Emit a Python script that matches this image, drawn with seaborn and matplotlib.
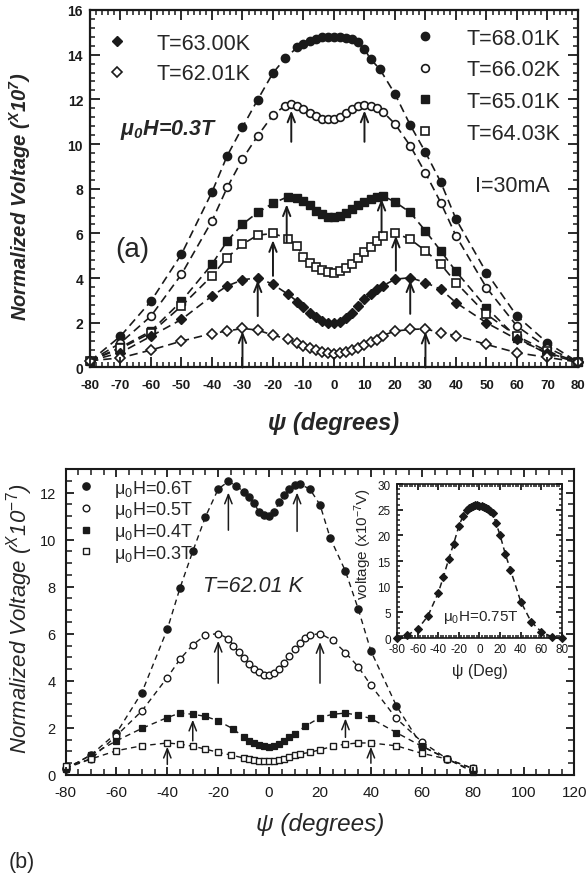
import matplotlib
matplotlib.use("Agg")
import matplotlib.pyplot as plt
import seaborn as sns
import pandas as pd
from matplotlib.lines import Line2D
from matplotlib.ticker import MultipleLocator

# ---------------- data: panel (a) ----------------
ang68 = [-80,-70,-60,-50,-40,-35,-30,-25,-20,-16,-12,-10,-8,-6,-4,-2,0,2,4,6,8,10,12,15,20,25,30,35,40,50,60,70,80]
v68 = [0.28,1.4,2.97,5.07,7.85,9.48,10.75,11.99,13.18,13.84,14.33,14.5,14.62,14.72,14.78,14.8,14.8,14.78,14.74,14.68,14.55,14.25,13.8,13.36,12.24,10.85,9.63,8.3,6.64,4.25,2.3,1.1,0.24]

ang66 = [-80,-70,-60,-50,-40,-35,-30,-25,-20,-16,-14,-12,-10,-8,-6,-4,-2,0,2,4,6,8,10,12,14,16,20,25,30,35,40,50,60,70,80]
v66 = [0.28,1.1,2.3,4.17,6.56,8.06,9.33,10.37,11.3,11.72,11.79,11.72,11.55,11.38,11.24,11.14,11.1,11.12,11.22,11.38,11.56,11.7,11.76,11.72,11.6,11.45,10.9,9.92,8.7,7.38,5.89,3.57,1.85,0.88,0.24]

ang65 = [-80,-70,-60,-50,-40,-35,-30,-25,-20,-15,-12,-10,-8,-6,-4,-2,0,2,4,6,8,10,12,14,16,20,25,30,35,40,50,60,70,80]
v65 = [0.3,0.9,1.63,2.97,4.62,5.66,6.41,6.94,7.35,7.65,7.6,7.45,7.25,7.02,6.85,6.72,6.72,6.8,6.92,7.08,7.25,7.42,7.56,7.65,7.68,7.41,6.94,6.11,5.22,4.3,2.68,1.33,0.6,0.24]

ang64 = [-80,-70,-60,-50,-40,-35,-30,-25,-20,-15,-12,-10,-8,-6,-4,-2,0,2,4,6,8,10,12,14,16,20,25,30,35,40,50,60,70,80]
v64 = [0.3,0.85,1.55,2.75,4.1,4.92,5.52,5.92,6.0,5.77,5.42,4.94,4.68,4.5,4.36,4.26,4.24,4.3,4.45,4.65,4.9,5.15,5.4,5.65,5.88,6.02,5.74,5.22,4.62,3.8,2.38,1.4,0.73,0.24]

ang63 = [-80,-70,-60,-50,-40,-35,-30,-25,-20,-15,-12,-10,-8,-6,-4,-2,0,2,4,6,8,10,12,14,16,20,25,30,35,40,50,60,70,80]
v63 = [0.3,0.66,1.4,2.15,3.2,3.65,3.92,4.02,3.72,3.27,2.95,2.7,2.45,2.25,2.08,1.98,1.97,2.05,2.2,2.45,2.75,3.05,3.3,3.5,3.65,3.95,4.02,3.8,3.5,2.9,2.0,1.26,0.66,0.24]

ang62 = [-80,-70,-60,-50,-40,-35,-30,-25,-20,-15,-12,-10,-8,-6,-4,-2,0,2,4,6,8,10,12,14,16,20,25,30,35,40,50,60,70,80]
v62 = [0.3,0.43,0.78,1.18,1.52,1.63,1.75,1.67,1.45,1.26,1.1,0.98,0.86,0.76,0.68,0.63,0.62,0.64,0.7,0.78,0.88,1.0,1.12,1.25,1.43,1.63,1.7,1.73,1.55,1.43,1.03,0.66,0.45,0.24]

labels_a = ["T=68.01K", "T=66.02K", "T=65.01K", "T=64.03K", "T=63.00K", "T=62.01K"]

# arrows (angle, start, tip) panel (a)
arrows_a = [(-14, 10.1, 11.5), (10, 10.1, 11.5),
            (-15.5, 5.6, 7.3), (15.6, 6.05, 7.55),
            (-20, 4.1, 5.7), (20.3, 4.33, 5.9),
            (-25, 2.3, 3.9), (25, 2.4, 3.9),
            (-30, 0.0, 1.62), (30, 0.0, 1.6)]

# ---------------- data: panel (b) ----------------
ang06 = [-80,-70,-60,-50,-40,-35,-30,-25,-20,-16,-13,-10,-8,-6,-4,-2,0,2,4,6,8,10,12,16,20,24,30,35,40,50,60,70,80]
v06 = [0.25,0.85,1.78,3.5,6.19,7.95,9.5,10.97,12.15,12.47,12.29,12.04,11.83,11.55,11.19,11.04,10.99,11.19,11.58,11.9,12.15,12.3,12.36,12.15,11.48,10.07,8.66,7.06,5.27,2.94,1.24,0.68,0.18]

ang05 = [-80,-70,-60,-50,-40,-35,-30,-25,-20,-16,-14,-12,-10,-8,-6,-4,-2,0,2,4,6,8,10,12,14,16,20,25,30,35,40,50,60,70,80]
v05 = [0.28,0.68,1.67,2.72,4.14,4.92,5.53,5.94,6.01,5.79,5.5,5.22,4.96,4.72,4.52,4.36,4.25,4.23,4.32,4.5,4.75,5.05,5.35,5.6,5.8,5.94,6.01,5.72,5.2,4.6,3.81,2.4,1.41,0.68,0.28]

ang04 = [-80,-70,-60,-50,-40,-35,-30,-25,-20,-14,-10,-8,-6,-4,-2,0,2,4,6,8,10,14,20,25,30,35,40,50,60,70,80]
v04 = [0.25,0.85,1.45,1.98,2.44,2.63,2.58,2.49,2.3,1.95,1.6,1.45,1.37,1.27,1.22,1.21,1.23,1.3,1.45,1.6,1.74,2.06,2.44,2.58,2.63,2.54,2.4,1.8,1.22,0.68,0.14]

ang03 = [-80,-70,-60,-50,-40,-35,-30,-25,-20,-15,-10,-8,-6,-4,-2,0,2,4,6,8,10,12,16,20,25,30,35,40,50,60,70,80]
v03 = [0.37,0.68,1.03,1.24,1.36,1.31,1.22,1.1,0.96,0.85,0.72,0.68,0.64,0.61,0.6,0.6,0.61,0.65,0.7,0.76,0.85,0.89,0.96,1.07,1.22,1.31,1.36,1.36,1.24,0.92,0.68,0.28]

labels_b = ["\u03bc$_0$H=0.6T", "\u03bc$_0$H=0.5T", "\u03bc$_0$H=0.4T", "\u03bc$_0$H=0.3T"]

arrows_b = [(-16, 10.4, 12.0), (11, 10.35, 12.0),
            (-20, 3.9, 5.7), (20, 3.9, 5.65),
            (-30, 1.45, 2.35), (30, 1.6, 2.4),
            (-40, 0.45, 1.2), (40, 0.5, 1.2)]

# inset
ang_in = [-80,-70,-60,-50,-40,-35,-30,-25,-20,-16,-12,-10,-8,-6,-4,-2,0,2,4,6,8,10,13,16,20,25,30,40,50,60,70,80]
v_in = [0,0.6,1.7,4.3,8.8,11.9,15.3,18.4,21.8,23.8,25.0,25.3,25.6,25.8,25.9,25.9,25.8,25.7,25.6,25.4,25.1,24.8,24.4,22.4,20.0,16.4,13.3,7.1,3.2,1.2,0.25,0]

xt_a = list(range(-80, 81, 10))
yt_a = list(range(0, 17, 2))
xt_b = list(range(-80, 121, 20))
yt_b = list(range(0, 13, 2))
xt_in = list(range(-80, 81, 20))
yt_in = list(range(0, 31, 5))

# ---------------- style ----------------
sns.set_theme(style="ticks")
plt.rcParams["font.family"] = ["Liberation Sans", "DejaVu Sans"]
plt.rcParams["mathtext.fontset"] = "custom"
plt.rcParams["mathtext.rm"] = "Liberation Sans"
plt.rcParams["mathtext.it"] = "Liberation Sans:italic"
plt.rcParams["mathtext.bf"] = "Liberation Sans:bold"
plt.rcParams.update({
    "xtick.direction": "in", "ytick.direction": "in",
    "xtick.top": True, "ytick.right": True,
    "xtick.color": "k", "ytick.color": "k",
    "axes.edgecolor": "k",
})
try:
    plt.rcParams["mathtext.bfit"] = "Liberation Sans:italic:bold"
    BFIT = True
except Exception:
    BFIT = False

fig = plt.figure(figsize=(5.87, 8.79), dpi=100)
axA = fig.add_axes([0.1533, 0.5808, 0.8313, 0.4067])
axB = fig.add_axes([0.1116, 0.1172, 0.8671, 0.3481])
axI = fig.add_axes([0.6763, 0.2730, 0.2811, 0.1752])


def draw(ax, x, y, marker, filled, ms, lw, dash, mew):
    df = pd.DataFrame({"x": x, "y": y})
    sns.lineplot(data=df, x="x", y="y", ax=ax, color="k", marker=marker,
                 markersize=ms, markerfacecolor=("k" if filled else "white"),
                 markeredgecolor="k", markeredgewidth=mew, linewidth=lw,
                 linestyle=(0, dash), clip_on=False, estimator=None,
                 sort=False, legend=False, zorder=3)


def style_axis(ax, lw, maj, mnr):
    for s in ax.spines.values():
        s.set_linewidth(lw)
    ax.tick_params(which="major", length=maj, width=1.3)
    ax.tick_params(which="minor", length=mnr, width=1.1)


# ---------------- panel (a) ----------------
dA = (5, 3)
draw(axA, ang68, v68, "o", True, 6.0, 1.2, dA, 1.0)
draw(axA, ang66, v66, "o", False, 5.6, 1.2, dA, 1.2)
draw(axA, ang65, v65, "s", True, 5.2, 1.2, dA, 1.0)
draw(axA, ang64, v64, "s", False, 5.2, 1.2, dA, 1.2)
draw(axA, ang63, v63, "D", True, 5.0, 1.2, dA, 1.0)
draw(axA, ang62, v62, "D", False, 4.8, 1.2, dA, 1.2)

for xa, y0, y1 in arrows_a:
    axA.annotate("", xy=(xa, y1), xytext=(xa, y0),
                 arrowprops=dict(arrowstyle="->,head_length=0.55,head_width=0.22",
                                 lw=1.4, color="k", shrinkA=0, shrinkB=0))

axA.set_xlim(-80, 80)
axA.set_ylim(0, 16)
axA.set_xticks(xt_a)
axA.set_xticklabels([str(t) for t in xt_a], fontweight="bold", fontsize=9.5)
axA.set_yticks(yt_a)
axA.set_yticklabels([str(t) for t in yt_a], fontweight="bold", fontsize=10)
axA.xaxis.set_minor_locator(MultipleLocator(2))
axA.yaxis.set_minor_locator(MultipleLocator(0.4))
style_axis(axA, 1.6, 7, 3.5)
axA.tick_params(axis="x", which="major", pad=8)
axA.tick_params(axis="y", which="major", pad=5)

if BFIT:
    ylabA = "Normalized Voltage ($^{\\mathbfit{X}}$10$^{\\mathbfit{7}}$)"
    muA = "\u03bc$_{\\mathbfit{0}}$H=0.3T"
else:
    ylabA = "Normalized Voltage ($^{X}$10$^{7}$)"
    muA = "\u03bc$_0$H=0.3T"
axA.set_xlabel("\u03c8 (degrees)", fontsize=17, fontweight="bold", style="italic")
axA.set_ylabel(ylabA, fontsize=14.5, fontweight="bold", style="italic")
axA.xaxis.set_label_coords(0.5, -0.122)
axA.yaxis.set_label_coords(-0.117, 0.481)

hl = [Line2D([], [], marker="D", color="k", ls="none", ms=5.0, mfc="k", mec="k"),
      Line2D([], [], marker="D", color="k", ls="none", ms=4.8, mfc="white", mec="k", mew=1.2)]
legA1 = axA.legend(hl, labels_a[4:], loc="upper left", bbox_to_anchor=(0.034, 0.937),
                   frameon=False, fontsize=15.5, handlelength=1.0, handletextpad=1.3,
                   borderpad=0, borderaxespad=0, labelspacing=0.45)
axA.add_artist(legA1)
hr = [Line2D([], [], marker="o", color="k", ls="none", ms=6.0, mfc="k", mec="k"),
      Line2D([], [], marker="o", color="k", ls="none", ms=5.6, mfc="white", mec="k", mew=1.2),
      Line2D([], [], marker="s", color="k", ls="none", ms=5.2, mfc="k", mec="k"),
      Line2D([], [], marker="s", color="k", ls="none", ms=5.2, mfc="white", mec="k", mew=1.2)]
axA.legend(hr, labels_a[:4], loc="upper left", bbox_to_anchor=(0.665, 0.951),
           frameon=False, fontsize=15.5, handlelength=1.0, handletextpad=1.4,
           borderpad=0, borderaxespad=0, labelspacing=0.5)

axA.text(0.061, 0.667, muA, transform=axA.transAxes, fontsize=15.5,
         fontweight="bold", style="italic", va="center", ha="left")
axA.text(0.051, 0.331, "(a)", transform=axA.transAxes, fontsize=20,
         va="center", ha="left")
axA.text(0.789, 0.51, "I=30mA", transform=axA.transAxes, fontsize=15.5,
         va="center", ha="left")

# ---------------- panel (b) ----------------
dB = (4, 3)
draw(axB, ang06, v06, "o", True, 5.2, 1.0, dB, 0.9)
draw(axB, ang05, v05, "o", False, 4.8, 1.0, dB, 1.0)
draw(axB, ang04, v04, "s", True, 4.6, 1.0, dB, 0.9)
draw(axB, ang03, v03, "s", False, 4.6, 1.0, dB, 1.0)

for xa, y0, y1 in arrows_b:
    axB.annotate("", xy=(xa, y1), xytext=(xa, y0),
                 arrowprops=dict(arrowstyle="->,head_length=0.55,head_width=0.22",
                                 lw=1.1, color="k", shrinkA=0, shrinkB=0))

axB.set_xlim(-80, 120)
axB.set_ylim(0, 13)
axB.set_xticks(xt_b)
axB.set_xticklabels([str(t) for t in xt_b], fontsize=11)
axB.set_yticks(yt_b)
axB.set_yticklabels([str(t) for t in yt_b], fontsize=10.5)
axB.xaxis.set_minor_locator(MultipleLocator(5))
axB.yaxis.set_minor_locator(MultipleLocator(0.5))
style_axis(axB, 1.5, 6, 4)
axB.tick_params(axis="both", which="major", pad=7)
axB.set_xlabel("\u03c8 (degrees)", fontsize=17.5, style="italic")
axB.set_ylabel("Normalized Voltage ($^{\\mathit{X}}$10$^{\\mathit{-7}}$)", fontsize=16, style="italic")
axB.xaxis.set_label_coords(0.5, -0.12)
axB.yaxis.set_label_coords(-0.06, 0.515)

hb = [Line2D([], [], marker="o", color="k", ls="none", ms=5.2, mfc="k", mec="k"),
      Line2D([], [], marker="o", color="k", ls="none", ms=4.8, mfc="white", mec="k", mew=1.0),
      Line2D([], [], marker="s", color="k", ls="none", ms=4.6, mfc="k", mec="k"),
      Line2D([], [], marker="s", color="k", ls="none", ms=4.6, mfc="white", mec="k", mew=1.0)]
axB.legend(hb, labels_b, loc="upper left", bbox_to_anchor=(0.022, 0.972),
           frameon=False, fontsize=13, handlelength=1.0, handletextpad=1.05,
           borderpad=0, borderaxespad=0, labelspacing=0.04)
axB.text(0.27, 0.618, "T=62.01 K", transform=axB.transAxes, fontsize=15.5,
         style="italic", va="center", ha="left")

# ---------------- inset ----------------
draw(axI, ang_in, v_in, "D", True, 4.5, 1.1, (4, 2.5), 0.8)
axI.set_xlim(-80, 80)
axI.set_ylim(0, 30)
axI.set_xticks(xt_in)
axI.set_xticklabels([str(t) for t in xt_in], fontsize=8.5)
axI.set_yticks(yt_in)
axI.set_yticklabels([str(t) for t in yt_in], fontsize=8.5)
axI.xaxis.set_minor_locator(MultipleLocator(2.5))
axI.yaxis.set_minor_locator(MultipleLocator(1))
style_axis(axI, 1.2, 4, 2.5)
axI.tick_params(axis="x", which="major", pad=3.5)
axI.tick_params(axis="y", which="major", pad=4.5)
axI.set_xlabel("\u03c8 (Deg)", fontsize=11.5)
axI.set_ylabel("voltage (x10$^{-7}$V)", fontsize=11)
axI.xaxis.set_label_coords(0.5, -0.16)
axI.yaxis.set_label_coords(-0.14, 0.62)
axI.text(0.279, 0.143, "\u03bc$_0$H=0.75T", transform=axI.transAxes,
         fontsize=11, va="center", ha="left")

fig.text(0.014, 0.019, "(b)", fontsize=15.5, va="center", ha="left")

# make sure the inward tick marks are drawn above everything in each panel
for ax, maj, mnr in ((axA, 7, 3.5), (axB, 6, 4), (axI, 4, 2.5)):
    ax.set_axisbelow(False)
    ax.tick_params(which="both", direction="in", top=True, right=True,
                   bottom=True, left=True, color="k")
    ax.tick_params(which="major", length=maj, width=1.3)
    ax.tick_params(which="minor", length=mnr, width=1.1)
    ax.xaxis.set_zorder(5)
    ax.yaxis.set_zorder(5)

fig.canvas.draw()
fig.savefig("out.png", dpi=100, facecolor="white")
